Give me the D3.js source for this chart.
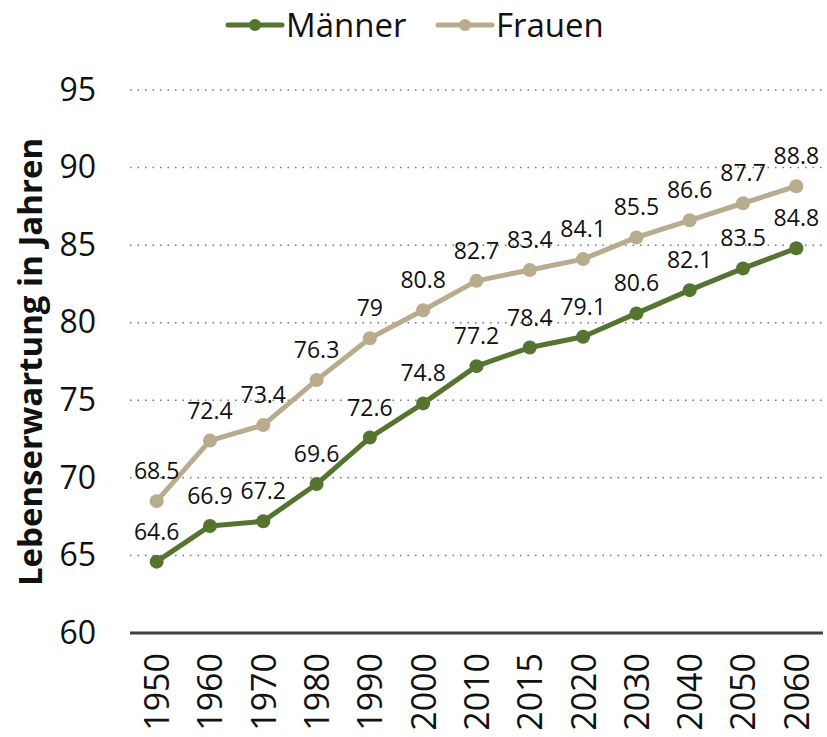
<!DOCTYPE html>
<html>
<head>
<meta charset="utf-8">
<script src="https://cdn.jsdelivr.net/npm/d3@7"></script>
<style>
  body { margin: 0; background: #fff; }
  text { font-family: "Open Sans", "Noto Sans", sans-serif; fill: #111; }
</style>
</head>
<body>
<div id="chart"></div>
<script>
const years = ["1950", "1960", "1970", "1980", "1990", "2000", "2010", "2015", "2020", "2030", "2040", "2050", "2060"];
const maenner = [64.6, 66.9, 67.2, 69.6, 72.6, 74.8, 77.2, 78.4, 79.1, 80.6, 82.1, 83.5, 84.8];
const frauen = [68.5, 72.4, 73.4, 76.3, 79, 80.8, 82.7, 83.4, 84.1, 85.5, 86.6, 87.7, 88.8];
const yTicks = [60, 65, 70, 75, 80, 85, 90, 95];

const width = 827, height = 737;
const plotLeft = 130, plotRight = 823, plotTop = 90, plotBottom = 633;

const series = [
    { name: "Maenner", values: maenner, color: "#55742f" },
    { name: "Frauen", values: frauen, color: "#b9ab8d" }
];

const svg = d3.select("#chart").append("svg")
    .attr("width", width)
    .attr("height", height);

const x = d3.scalePoint().domain(years).range([plotLeft, plotRight]).padding(0.5);
const y = d3.scaleLinear().domain([60, 95]).range([plotBottom, plotTop]);

// gridlines
svg.append("g")
    .selectAll("line")
    .data(yTicks.filter(t => t > 60))
    .enter()
    .append("line")
    .attr("x1", plotLeft)
    .attr("x2", plotRight)
    .attr("y1", d => y(d))
    .attr("y2", d => y(d))
    .attr("stroke", "#777")
    .attr("stroke-width", 1.5)
    .attr("stroke-dasharray", "1.5,6");

// y axis labels
const yAxis = d3.axisLeft(y).tickValues(yTicks).tickSize(0).tickPadding(0);
const gy = svg.append("g")
    .attr("transform", "translate(96,0)")
    .call(yAxis);
gy.select(".domain").remove();
gy.selectAll("text")
    .style("font-size", "32px")
    .style("font-family", "'Open Sans', sans-serif")
    .attr("fill", "#111");

// x axis
const xAxis = d3.axisBottom(x).tickSize(0).tickPadding(0);
const gx = svg.append("g")
    .attr("transform", "translate(0," + plotBottom + ")")
    .call(xAxis);
gx.select(".domain")
    .attr("d", "M" + plotLeft + ",0H" + plotRight)
    .attr("stroke", "#404040")
    .attr("stroke-width", 3);
gx.selectAll("text")
    .style("font-size", "34px")
    .style("font-family", "'Open Sans', sans-serif")
    .attr("fill", "#111")
    .attr("transform", "rotate(-90)")
    .attr("x", -20)
    .attr("y", 0)
    .attr("dy", "0.35em")
    .style("text-anchor", "end");

// y axis title
svg.append("text")
    .attr("transform", "translate(42,362) rotate(-90)")
    .attr("text-anchor", "middle")
    .style("font-size", "33px")
    .style("font-weight", "bold")
    .text("Lebenserwartung in Jahren");

// lines, points, labels
const line = d3.line()
    .x((d, i) => x(years[i]))
    .y(d => y(d));

series.forEach(s => {
    svg.append("path")
        .datum(s.values)
        .attr("d", line)
        .attr("fill", "none")
        .attr("stroke", s.color)
        .attr("stroke-width", 5)
        .attr("stroke-linejoin", "round");

    svg.selectAll("circle.p-" + s.name)
        .data(s.values)
        .enter()
        .append("circle")
        .attr("class", "p-" + s.name)
        .attr("cx", (d, i) => x(years[i]))
        .attr("cy", d => y(d))
        .attr("r", 7)
        .attr("fill", s.color);

    svg.selectAll("text.l-" + s.name)
        .data(s.values)
        .enter()
        .append("text")
        .attr("class", "l-" + s.name)
        .attr("x", (d, i) => x(years[i]))
        .attr("y", d => y(d) - 22)
        .attr("text-anchor", "middle")
        .style("font-size", "23px")
        .text(d => String(d));
});

// legend
const legendItems = [
    { name: "Männer", color: series[0].color, x: 228 },
    { name: "Frauen", color: series[1].color, x: 438 }
];
const lg = svg.append("g");
legendItems.forEach(item => {
    lg.append("line")
        .attr("x1", item.x)
        .attr("x2", item.x + 54)
        .attr("y1", 25)
        .attr("y2", 25)
        .attr("stroke", item.color)
        .attr("stroke-width", 5)
        .attr("stroke-linecap", "round");
    lg.append("circle")
        .attr("cx", item.x + 27)
        .attr("cy", 25)
        .attr("r", 6)
        .attr("fill", item.color);
    lg.append("text")
        .attr("x", item.x + 58)
        .attr("y", 25)
        .attr("dy", "0.36em")
        .style("font-size", "33px")
        .text(item.name);
});
</script>
</body>
</html>
